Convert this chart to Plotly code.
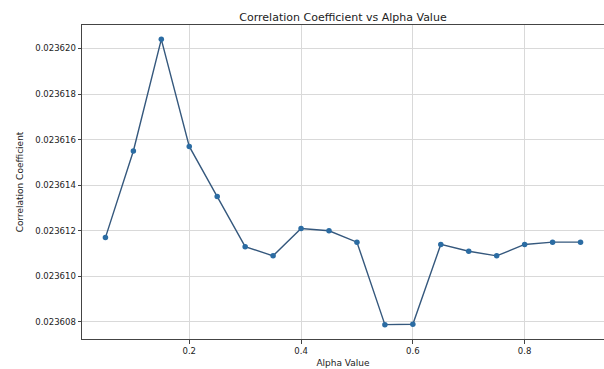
import plotly.graph_objects as go

alpha_values = [0.05, 0.10, 0.15, 0.20, 0.25, 0.30, 0.35, 0.40, 0.45,
                0.50, 0.55, 0.60, 0.65, 0.70, 0.75, 0.80, 0.85, 0.90]
correlation = [0.0236117, 0.0236155, 0.0236204, 0.0236157, 0.0236135, 0.0236113,
               0.0236109, 0.0236121, 0.0236120, 0.0236115, 0.02360788, 0.0236079,
               0.0236114, 0.0236111, 0.0236109, 0.0236114, 0.0236115, 0.0236115]
x_ticks = [0.2, 0.4, 0.6, 0.8]
y_ticks = [0.023608, 0.023610, 0.023612, 0.023614, 0.023616, 0.023618, 0.023620]

fig = go.Figure()
fig.add_trace(go.Scatter(
    x=alpha_values, y=correlation, mode="lines+markers",
    line=dict(color="#35587d", width=1.4),
    marker=dict(color="#2b6ca3", size=5.5),
    showlegend=False,
))

font = "DejaVu Sans"
fig.update_layout(
    width=604, height=369,
    margin=dict(l=82, r=0, t=25, b=30),
    paper_bgcolor="white", plot_bgcolor="white",
    font=dict(family=font, size=9, color="#222"),
    title=dict(text="Correlation Coefficient vs Alpha Value", x=(82 + 604) / 2 / 604,
               xanchor="center", y=1 - 17 / 369, yanchor="middle",
               font=dict(family=font, size=11, color="#222")),
)
fig.update_xaxes(
    range=[0.0081, 0.942], tickvals=x_ticks, ticktext=[str(v) for v in x_ticks],
    showgrid=True, gridcolor="#d9d9d9", gridwidth=1,
    showline=True, linecolor="#444", linewidth=1, mirror=True,
    ticks="outside", ticklen=3.5, tickcolor="#444",
    zeroline=False,
    title=dict(text="Alpha Value", font=dict(family=font, size=9, color="#222"), standoff=4),
    tickfont=dict(family=font, size=8.5, color="#222"),
)
fig.update_yaxes(
    range=[0.02360725, 0.02362103], tickvals=y_ticks,
    ticktext=[f"{v:.6f}" for v in y_ticks],
    showgrid=True, gridcolor="#d9d9d9", gridwidth=1,
    showline=True, linecolor="#444", linewidth=1, mirror=False,
    ticks="outside", ticklen=3.5, tickcolor="#444",
    zeroline=False,
    title=dict(text="Correlation Coefficient", font=dict(family=font, size=9, color="#222"), standoff=10),
    tickfont=dict(family=font, size=8.5, color="#222"),
)

fig.write_html("out.html")
